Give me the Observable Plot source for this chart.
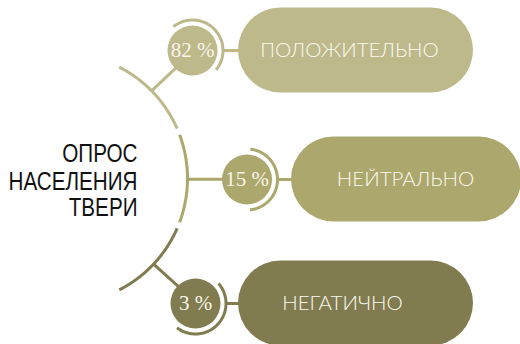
<!DOCTYPE html>
<html>
<head>
<meta charset="utf-8">
<script src="https://cdn.jsdelivr.net/npm/d3@7"></script>
<script src="https://cdn.jsdelivr.net/npm/@observablehq/plot@0.6"></script>
<style>
  html, body { margin: 0; padding: 0; background: #ffffff; }
  #chart svg { display: block; }
</style>
</head>
<body>
<div id="chart"></div>
<script>
// ---- data ----
const categories = ["ПОЛОЖИТЕЛЬНО", "НЕЙТРАЛЬНО", "НЕГАТИЧНО"];
const values = [82, 15, 3];
const titleLines = ["ОПРОС", "НАСЕЛЕНИЯ", "ТВЕРИ"];

// ---- styles ----
const colors = ["#bdb98b", "#aca76c", "#807c50"];

// ---- layout (pixel space of the 520x344 canvas) ----
const W = 520, H = 344;
const hub = [62, 178];          // centre of the big arc
const hubR = 125;               // radius of the big arc
const arcSegs = [[-63, -23.5], [-20.5, 20.5], [23.5, 63]];
const circleX = [192, 246.5, 195];
const rowY = [50, 179, 303];
const pillX1 = [238, 291, 238];
const pillX2 = [473, 521, 473];
const labelX = [349, 405, 342];
const pillH = 85;
const dotR = 25;
const ringR = 30.5;
const ringHalf = 84;
const titleX = 137;
const titleY = [153, 181, 207.5];
const titleWidestPx = 129;      // width of the longest title line in the reference

const rad = d => d * Math.PI / 180;

const items = categories.map((c, i) => {
  const ang = Math.atan2(rowY[i] - hub[1], circleX[i] - hub[0]);
  return {cat: c, value: values[i], i, cx: circleX[i], cy: rowY[i], ang};
});

// big arc split into three segments
const arcPts = [];
arcSegs.forEach(([a0, a1], s) => {
  for (let a = a0; a <= a1 + 1e-9; a += 0.5) {
    arcPts.push({cat: categories[s], x: hub[0] + hubR * Math.cos(rad(a)), y: hub[1] + hubR * Math.sin(rad(a))});
  }
});

// rings around the circles
const ringPts = [];
items.forEach(it => {
  const c = it.ang * 180 / Math.PI;
  for (let a = c - ringHalf; a <= c + ringHalf + 1e-9; a += 1) {
    ringPts.push({cat: it.cat, x: it.cx + ringR * Math.cos(rad(a)), y: it.cy + ringR * Math.sin(rad(a))});
  }
});

// radial connectors from big arc to circles
const spokes = items.map(it => ({
  cat: it.cat,
  x1: hub[0] + hubR * Math.cos(it.ang), y1: hub[1] + hubR * Math.sin(it.ang),
  x2: it.cx - dotR * Math.cos(it.ang) + 1, y2: it.cy - dotR * Math.sin(it.ang)
}));

// horizontal connectors from ring to pill
const bridges = items.map(it => ({
  cat: it.cat, x1: it.cx + ringR, x2: pillX1[it.i] + 2, y: it.cy
}));

const pills = items.map(it => ({
  cat: it.cat, x1: pillX1[it.i], x2: pillX2[it.i], y1: it.cy - pillH / 2, y2: it.cy + pillH / 2, lx: labelX[it.i]
}));

const titles = titleLines.map((t, i) => ({t, y: titleY[i]}));

const chart = Plot.plot({
  width: W,
  height: H,
  margin: 0,
  x: {domain: [0, W], range: [0, W], axis: null},
  y: {domain: [0, H], range: [0, H], axis: null},
  color: {domain: categories, range: colors},
  style: {background: "#ffffff"},
  marks: [
    Plot.line(arcPts, {x: "x", y: "y", z: "cat", stroke: "cat", strokeWidth: 3, strokeLinecap: "butt"}),
    Plot.link(spokes, {x1: "x1", y1: "y1", x2: "x2", y2: "y2", stroke: "cat", strokeWidth: 3}),
    Plot.link(bridges, {x1: "x1", y1: "y", x2: "x2", y2: "y", stroke: "cat", strokeWidth: 3}),
    Plot.line(ringPts, {x: "x", y: "y", z: "cat", stroke: "cat", strokeWidth: 3, strokeLinecap: "butt"}),
    Plot.rect(pills, {x1: "x1", x2: "x2", y1: "y1", y2: "y2", fill: "cat", rx: pillH / 2}),
    Plot.dot(items, {x: "cx", y: "cy", r: dotR, fill: "cat", stroke: null}),
    Plot.text(items, {x: "cx", y: "cy", text: d => `${d.value} %`, fill: "#f8f5ea",
      fontFamily: "Liberation Serif", fontSize: 21, lineAnchor: "middle", textAnchor: "middle"}),
    Plot.text(pills, {x: "lx", y: d => (d.y1 + d.y2) / 2, text: "cat", fill: "#fbf9f0",
      fontFamily: "Lato", fontWeight: 300, fontSize: 20.5, lineAnchor: "middle", textAnchor: "middle"}),
    Plot.text(titles, {x: titleX, y: "y", text: "t", fill: "#111111",
      fontFamily: "Liberation Sans", fontSize: 26, lineAnchor: "middle", textAnchor: "end"})
  ]
});
document.getElementById("chart").appendChild(chart);

// condense the title lines horizontally (the reference uses a narrow display face)
const textGroups = chart.querySelectorAll("g[aria-label='text']");
const titleGroup = textGroups[textGroups.length - 1];
const titleNodes = Array.from(titleGroup.querySelectorAll("text"));
const widest = d3.max(titleNodes, n => n.getComputedTextLength());
const sx = widest > 0 ? titleWidestPx / widest : 1;
titleNodes.forEach(n => {
  const t = n.getAttribute("transform") || "";
  n.setAttribute("transform", `${t} scale(${sx},1)`);
});
</script>
</body>
</html>
